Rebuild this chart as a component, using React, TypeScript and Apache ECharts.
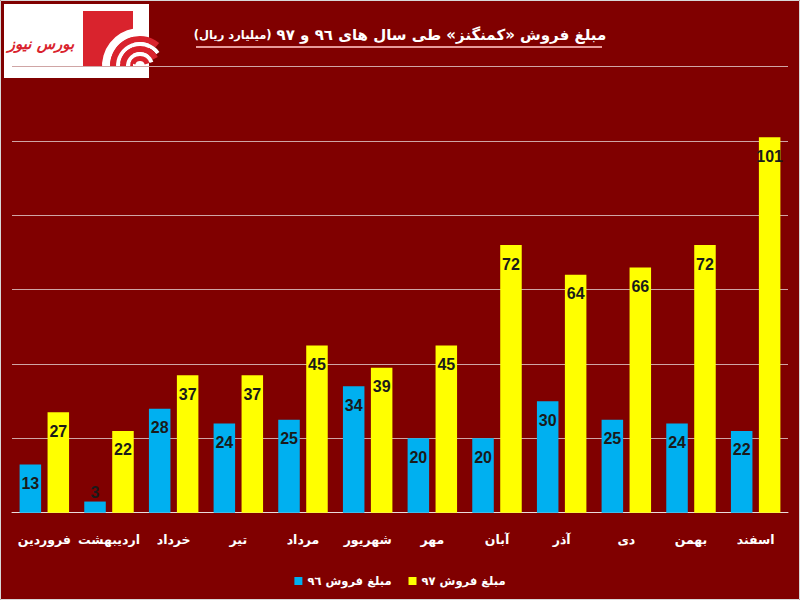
import React, { useEffect, useRef } from "react";
import * as echarts from "echarts";

const categories = ["فروردین", "اردیبهشت", "خرداد", "تیر", "مرداد", "شهریور", "مهر", "آبان", "آذر", "دی", "بهمن", "اسفند"];
const sales96 = [13, 3, 28, 24, 25, 34, 20, 20, 30, 25, 24, 22];
const sales97 = [27, 22, 37, 37, 45, 39, 45, 72, 64, 66, 72, 101];
const seriesNames = ["مبلغ فروش ٩٦", "مبلغ فروش ٩٧"];
const titleMain = "مبلغ فروش «کمنگنز» طی سال های ٩٦ و ٩٧";
const titleUnit = "(میلیارد ریال)";
const logoText = "بورس نیوز";
const yMin = 0;
const yMax = 120;
const yInterval = 20;

const AR = "'DejaVu Sans', sans-serif";
const NUM = "'Liberation Sans Narrow', 'Liberation Sans', Arial, sans-serif";

export default function App() {
  const ref = useRef<HTMLDivElement>(null);
  useEffect(() => {
    document.body.style.margin = "0";
    if (!ref.current) return;
    const chart = echarts.init(ref.current, null, { renderer: "svg" });
    const labelBase = {
      show: true,
      position: "insideTop",
      distance: 11,
      color: "#1a1a1a",
      fontFamily: NUM,
      fontWeight: "bold",
      fontSize: 16,
    };
    const d96 = sales96.map((v) =>
      v < 8 ? { value: v, label: { position: "top", distance: 1 } } : v
    );
    chart.setOption({
      animation: false,
      backgroundColor: "#800000",
      title: {
        text: "{b|" + titleUnit + "} {a|" + titleMain + "}",
        left: "center",
        top: 19,
        textStyle: {
          rich: {
            a: { color: "#ffffff", fontFamily: AR, fontWeight: "bold", fontSize: 15, lineHeight: 22 },
            b: { color: "#ffffff", fontFamily: AR, fontWeight: "bold", fontSize: 11.5, lineHeight: 22 },
          },
        },
      },
      legend: {
        data: seriesNames,
        left: "center",
        top: 570,
        icon: "rect",
        itemWidth: 8,
        itemHeight: 8,
        itemGap: 17,
        textStyle: { color: "#ffffff", fontFamily: AR, fontWeight: "bold", fontSize: 11.5 },
      },
      grid: { left: 12, right: 12, top: 66.7, bottom: 87.3, containLabel: false },
      xAxis: {
        type: "category",
        data: categories,
        axisTick: { show: false },
        axisLine: { lineStyle: { color: "#eadcdc", width: 1 } },
        axisLabel: {
          color: "#ffffff",
          fontFamily: AR,
          fontWeight: "bold",
          fontSize: 12.5,
          margin: 20,
          interval: 0,
        },
      },
      yAxis: {
        type: "value",
        min: yMin,
        max: yMax,
        interval: yInterval,
        axisLabel: { show: false },
        axisLine: { show: false },
        axisTick: { show: false },
        splitLine: { lineStyle: { color: "#cfa5a5", width: 1 } },
      },
      series: [
        {
          name: seriesNames[0],
          type: "bar",
          data: d96,
          itemStyle: { color: "#00b0f0" },
          barGap: "30%",
          barCategoryGap: "23.5%",
          label: labelBase,
        },
        {
          name: seriesNames[1],
          type: "bar",
          data: sales97,
          itemStyle: { color: "#ffff00" },
          label: labelBase,
        },
      ],
      graphic: [
        { type: "rect", shape: { x: 0.5, y: 0.5, width: 799, height: 599 }, style: { fill: "none", stroke: "#d8d8d8", lineWidth: 1 }, silent: true },
        { type: "line", shape: { x1: 196, y1: 47, x2: 602, y2: 47 }, style: { stroke: "#e79a9a", lineWidth: 2 } },
        {
          type: "group",
          children: [
            { type: "rect", shape: { x: 4, y: 4, width: 145, height: 74 }, style: { fill: "#ffffff" } },
            { type: "rect", shape: { x: 83, y: 11, width: 50, height: 56 }, style: { fill: "#d9232d" } },
            { type: "sector", shape: { cx: 140, cy: 66, r0: 30, r: 38, startAngle: Math.PI * 0.97, endAngle: Math.PI * 1.45 }, style: { fill: "#ffffff" } },
            { type: "sector", shape: { cx: 140, cy: 66, r0: 24, r: 30, startAngle: Math.PI * 1.0, endAngle: Math.PI * 1.72 }, style: { fill: "#d9232d" } },
            { type: "sector", shape: { cx: 140, cy: 66, r0: 20, r: 24, startAngle: Math.PI * 0.97, endAngle: Math.PI * 1.8 }, style: { fill: "#ffffff" } },
            { type: "sector", shape: { cx: 140, cy: 66, r0: 14, r: 20, startAngle: Math.PI * 1.05, endAngle: Math.PI * 1.85 }, style: { fill: "#d9232d" } },
            { type: "sector", shape: { cx: 140, cy: 66, r0: 10, r: 14, startAngle: Math.PI * 0.97, endAngle: Math.PI * 1.9 }, style: { fill: "#ffffff" } },
            { type: "sector", shape: { cx: 140, cy: 66, r0: 5, r: 10, startAngle: Math.PI * 1.1, endAngle: Math.PI * 1.9 }, style: { fill: "#d9232d" } },
            { type: "rect", shape: { x: 83, y: 67, width: 66, height: 11 }, style: { fill: "#ffffff" } },
            {
              type: "text",
              x: 41,
              y: 44,
              style: {
                text: logoText,
                fill: "#d9232d",
                font: "italic bold 15px 'DejaVu Sans', sans-serif",
                align: "center",
                verticalAlign: "middle",
              },
            },
          ],
        },
      ],
    });
    return () => chart.dispose();
  }, []);
  return <div ref={ref} style={{ width: 800, height: 600 }} />;
}
